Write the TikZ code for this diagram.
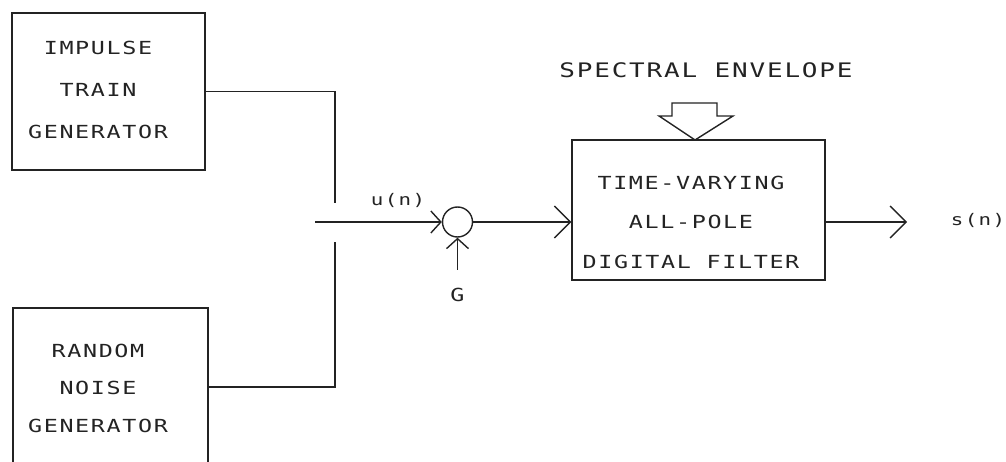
\documentclass[tikz,border=0pt]{standalone}
\usepackage{fontspec}
\usepackage{xcolor}
\usepackage{tikz}
\usetikzlibrary{
  arrows.meta,
  positioning,
  calc
}
\newfontfamily\plotterfont{DejaVu Sans Mono}[FakeStretch=1.3, LetterSpace=9]
\definecolor{plotink}{RGB}{35, 35, 35}

\begin{document}
\begin{tikzpicture}[x=1pt, y=-1pt, line width=1.4pt, draw=plotink,
  block/.style={rectangle, draw=plotink, inner sep=0pt},
  plottext/.style={font=\plotterfont\fontsize{18}{40}\selectfont, align=center, text=plotink},
  barb/.style={-{Straight Barb[length=16pt, width=32pt]}},
  smallbarb/.style={-{Straight Barb[length=10pt, width=22pt]}}
]
  \useasboundingbox (0, 0) rectangle (1006, 462);
  \clip (0, 0) rectangle (1006, 462);
  % source blocks
  \node[block, minimum width=193pt, minimum height=157pt] (imp) at (108.5, 91.5) {};
  \node[block, minimum width=195pt, minimum height=158pt] (noise) at (110.5, 387) {};
  \node[plottext, font=\plotterfont\fontsize{18}{42}\selectfont] (impT) at (98, 90) {IMPULSE\\TRAIN\\GENERATOR};
  \node[plottext, font=\plotterfont\fontsize{18}{37.5}\selectfont] (noiseT) at (98, 388) {RANDOM\\NOISE\\GENERATOR};
  % gain and filter
  \node[circle, draw=plotink, minimum size=30pt, inner sep=0pt] (sum) at (457.5, 222) {};
  \node[block, minimum width=253pt, minimum height=140pt] (filt) at (698.5, 210) {};
  \node[plottext, font=\plotterfont\fontsize{18}{39.5}\selectfont] (filtT) at (691, 222) {TIME-VARYING\\ALL-POLE\\DIGITAL FILTER};
  \node[plottext, font=\plotterfont\fontsize{20}{24}\selectfont] (envT) at (706, 70) {SPECTRAL ENVELOPE};
  \node[plottext, font=\plotterfont\fontsize{16}{20}\selectfont] (uT) at (398, 200) {u(n)};
  \node[plottext] (gT) at (457.5, 295) {G};
  \node[plottext, font=\plotterfont\fontsize{16}{20}\selectfont] (sT) at (978, 220) {s(n)};
  % switch and free ends
  \coordinate (swA) at (335, 203);
  \coordinate (swB) at (335, 242);
  \coordinate (swIn) at (315, 222);
  \coordinate (gIn) at (457.5, 270);
  \coordinate (out) at (907, 222);
  \draw (imp.east) -| (swA);
  \draw (noise.east) -| (swB);
  \draw[smallbarb] (swIn) -- (sum);
  \draw[smallbarb] (gIn) -- (sum);
  \draw[barb] (sum) -- (sum -| filt.west);
  \draw[barb] (sum -| filt.east) -- (out);
  % hollow arrow into the filter
  \draw[line join=miter] (672, 103) -- (717, 103) -- (717, 116) -- (733, 116)
    -- (695, 140) -- (659, 116) -- (672, 116) -- cycle;
\end{tikzpicture}
\end{document}
